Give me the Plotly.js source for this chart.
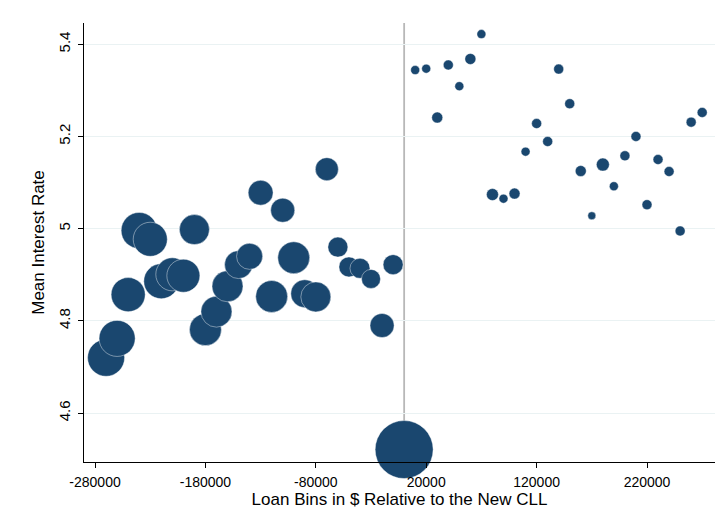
<!DOCTYPE html>
<html>
<head>
<meta charset="utf-8">
<script src="https://cdn.plot.ly/plotly-3.0.1.min.js"></script>
<style>html,body{margin:0;padding:0;background:#fff;}#chart{width:724px;height:528px;}</style>
</head>
<body>
<div id="chart"></div>
<script>
// Loan bins (in $ relative to the new conforming loan limit)
const loanBins = [
  -270000, -260000, -250000, -240000, -230000, -220000, -210000, -200000, -190000,
  -180000, -170000, -160000, -150000, -140000, -130000, -120000, -110000, -100000,
  -90000, -80000, -70000, -60000, -50000, -40000, -30000, -20000, -10000, 0,
  10000, 20000, 30000, 40000, 50000, 60000, 70000, 80000, 90000, 100000,
  110000, 120000, 130000, 140000, 150000, 160000, 170000, 180000, 190000, 200000,
  210000, 220000, 230000, 240000, 250000, 260000, 270000
];
// Mean interest rate per bin
const meanRate = [
  4.720, 4.762, 4.857, 4.996, 4.977, 4.886, 4.901, 4.898, 4.998,
  4.781, 4.820, 4.875, 4.922, 4.940, 5.078, 4.853, 5.040, 4.937,
  4.859, 4.852, 5.129, 4.960, 4.917, 4.914, 4.891, 4.790, 4.922, 4.521,
  5.344, 5.347, 5.241, 5.355, 5.309, 5.368, 5.422, 5.074, 5.065, 5.076,
  5.167, 5.228, 5.189, 5.346, 5.271, 5.125, 5.028, 5.139, 5.092, 5.158,
  5.200, 5.052, 5.150, 5.124, 4.995, 5.231, 5.252
];
// Relative number of loans per bin (bubble weight, area-proportional)
const binWeight = [
  137, 130, 116, 130, 116, 122, 109, 109, 90,
  102, 96, 96, 78, 68, 62, 102, 58, 102,
  78, 90, 53, 40, 40, 40, 36, 58, 40, 336,
  8.1, 8.1, 12.1, 10, 8.1, 12.1, 8.1, 14.4, 8.1, 12.1,
  8.1, 10, 10, 10, 10, 12.1, 6.4, 16.9, 8.1, 10,
  10, 10, 10, 10, 10, 10, 10
];
const cutoff = 0;
const yTicks = [4.6, 4.8, 5, 5.2, 5.4];
const yTickText = ['4.6', '4.8', '5', '5.2', '5.4'];
const xTicks = [-280000, -180000, -80000, 20000, 120000, 220000];
const xTickText = ['-280000', '-180000', '-80000', '20000', '120000', '220000'];

const font = 'Liberation Sans, Arial, Helvetica, sans-serif';

const trace = {
  type: 'scatter',
  mode: 'markers',
  x: loanBins,
  y: meanRate,
  marker: {
    size: binWeight,
    sizemode: 'area',
    sizeref: 0.2,
    color: '#1a476f',
    opacity: 1,
    line: {color: 'rgba(255,255,255,0.7)', width: 0.6}
  },
  cliponaxis: false,
  hoverinfo: 'x+y'
};

const layout = {
  width: 724,
  height: 528,
  margin: {l: 84, r: 9, t: 23, b: 66},
  paper_bgcolor: '#ffffff',
  plot_bgcolor: '#ffffff',
  showlegend: false,
  font: {family: font, color: '#000'},
  xaxis: {
    range: [-290000, 281600],
    tickvals: xTicks,
    ticktext: xTickText,
    ticks: 'outside',
    ticklen: 5,
    tickcolor: '#000',
    ticklabelstandoff: 2,
    tickfont: {size: 14, family: font},
    showgrid: false,
    zeroline: false,
    showline: true,
    linecolor: '#000',
    linewidth: 1,
    title: {text: 'Loan Bins in $ Relative to the New CLL', font: {size: 17, family: font}, standoff: 4}
  },
  yaxis: {
    range: [4.494, 5.446],
    tickvals: yTicks,
    ticktext: yTickText,
    tickangle: -90,
    ticks: 'outside',
    ticklen: 5,
    tickcolor: '#000',
    ticklabelstandoff: 2,
    tickfont: {size: 15, family: font},
    showgrid: true,
    gridcolor: '#eaf2f3',
    gridwidth: 1,
    zeroline: false,
    showline: true,
    linecolor: '#000',
    linewidth: 1,
    title: {text: 'Mean Interest Rate', font: {size: 17, family: font}, standoff: 7}
  },
  shapes: [{
    type: 'line', xref: 'x', yref: 'paper',
    x0: cutoff, x1: cutoff, y0: 0, y1: 1,
    line: {color: '#b8b8b8', width: 1.8},
    layer: 'below'
  }]
};

Plotly.newPlot('chart', [trace], layout, {displayModeBar: false, staticPlot: true});
</script>
</body>
</html>
